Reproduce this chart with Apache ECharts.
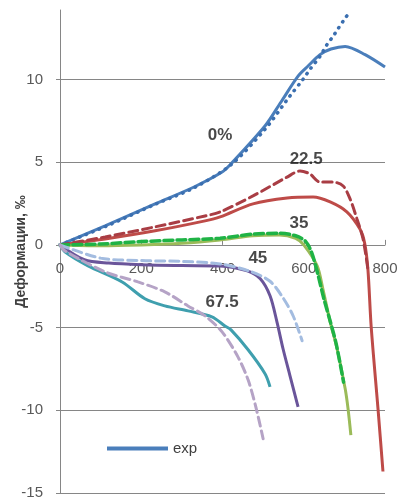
<!DOCTYPE html>
<html>
<head>
<meta charset="utf-8">
<script src="https://cdn.jsdelivr.net/npm/echarts@6/dist/echarts.min.js"></script>
<style>html,body{margin:0;padding:0;background:#fff;}#c{width:398px;height:497px;}</style>
</head>
<body>
<div id="c"></div>
<script>
// x ticks / y ticks
const xTicks = [0, 200, 400, 600, 800];
const yTicks = [-15, -10, -5, 0, 5, 10];

// 0% exp (solid) and calc (dotted)
const exp0X = [0, 111, 234, 330, 399, 421, 505, 544, 586, 610, 640, 667, 702, 751, 800];
const exp0Y = [0, 1.15, 2.48, 3.5, 4.4, 4.9, 7.2, 8.64, 10.2, 10.8, 11.5, 11.84, 12.0, 11.5, 10.75];
const calc0X = [0, 111, 234, 330, 421, 505, 566, 598, 615, 640, 657, 672, 684, 699, 714];
const calc0Y = [0, 1.1, 2.45, 3.45, 4.85, 7.0, 9.0, 10.0, 10.6, 11.4, 12.1, 12.6, 13.05, 13.6, 14.1];

// 22.5
const exp22X = [0, 111, 234, 357, 394, 475, 559, 623, 665, 706, 738, 750, 758, 766, 783, 795];
const exp22Y = [0, 0.36, 0.85, 1.45, 1.69, 2.48, 2.84, 2.9, 2.6, 2.0, 0.97, 0.1, -1.5, -4.95, -9.97, -13.7];
const calc22X = [0, 111, 234, 357, 394, 475, 559, 591, 615, 640, 672, 697, 714, 731, 746, 758];
const calc22Y = [0, 0.48, 1.09, 1.75, 1.99, 2.96, 4.1, 4.47, 4.29, 3.8, 3.8, 3.56, 2.78, 1.57, 0.36, -1.5];

// 35
const exp35X = [0, 100, 200, 300, 394, 475, 540, 580, 600, 633, 647, 665, 682, 702, 709, 716];
const exp35Y = [0, -0.05, 0, 0.1, 0.3, 0.55, 0.6, 0.4, 0.0, -1.27, -2.66, -4.65, -6.28, -8.7, -9.9, -11.5];
const calc35X = [0, 100, 200, 300, 394, 475, 540, 580, 605, 620, 635, 650, 665, 680, 698];
const calc35Y = [0, 0.05, 0.2, 0.3, 0.4, 0.65, 0.7, 0.55, 0.2, -0.5, -1.8, -3.3, -4.6, -6.0, -8.3];

// 45
const exp45X = [0, 60, 120, 200, 300, 394, 461, 493, 517, 534, 549, 566, 586];
const exp45Y = [0, -0.9, -1.1, -1.2, -1.25, -1.27, -1.57, -2.05, -3.08, -4.65, -6.28, -7.9, -9.8];
const calc45X = [0, 100, 200, 300, 394, 468, 517, 549, 574, 596];
const calc45Y = [0, -0.8, -0.95, -1.0, -1.15, -1.6, -2.2, -3.2, -4.3, -5.8];

// 67.5
const exp67X = [0, 12, 69, 153, 209, 258, 315, 374, 406, 421, 463, 505, 517];
const exp67Y = [0, -0.42, -1.27, -2.24, -3.26, -3.69, -3.99, -4.35, -4.9, -5.14, -6.34, -7.8, -8.58];
const calc67X = [0, 12, 111, 192, 258, 315, 357, 399, 438, 463, 482, 500];
const calc67Y = [0, -0.36, -1.63, -2.24, -2.84, -3.69, -4.29, -5.26, -6.77, -8.16, -9.79, -11.72];

// curve annotations
const annText = ['0%', '22.5', '35', '45', '67.5'];
const annX = [394, 606, 588, 487, 399];
const annY = [6.6, 5.15, 1.33, -0.8, -3.45];

const pairs = (xs, ys) => xs.map((x, i) => [x, ys[i]]);
const FONT = 'Liberation Sans';
const GRID = { left: 60, right: 13, top: 10, bottom: 4 };
const H = 497;

function lineSeries(name, xs, ys, color, type, width, z) {
  return {
    name: name, type: 'line', data: pairs(xs, ys),
    showSymbol: false, symbol: 'none', smooth: 0.3, z: z,
    lineStyle: { color: color, width: width, type: type, cap: type === 'solid' ? 'butt' : 'round' },
    itemStyle: { color: color }
  };
}

const chart = echarts.init(document.getElementById('c'), null, { renderer: 'canvas' });
chart.setOption({
  animation: false,
  backgroundColor: '#fff',
  grid: { left: GRID.left, right: GRID.right, top: GRID.top, bottom: GRID.bottom, containLabel: false, outerBoundsMode: 'none' },
  legend: {
    data: [{ name: 'exp', icon: 'rect' }],
    left: 102, top: 436, itemWidth: 61, itemHeight: 4, itemGap: 5,
    textStyle: { fontFamily: FONT, fontSize: 15, color: '#404040', padding: [0, 0, 0, 0] }
  },
  xAxis: {
    type: 'value', min: xTicks[0], max: xTicks[xTicks.length - 1], interval: 200,
    position: 'bottom', offset: 0, z: 0,
    axisLine: { onZero: false, lineStyle: { color: '#868686', width: 1 } },
    axisTick: { show: true, inside: true, length: 5, lineStyle: { color: '#868686' } },
    axisLabel: { margin: 16, fontFamily: FONT, fontSize: 15, color: '#595959' },
    splitLine: { show: false }
  },
  yAxis: {
    type: 'value', min: yTicks[0], max: 14.2, interval: 5,
    name: 'Деформации, ‰', nameLocation: 'middle', nameGap: 32, nameRotate: 90, nameMoveOverlap: false,
    nameTextStyle: { fontFamily: FONT, fontSize: 14, fontWeight: 'bold', color: '#404040' },
    axisLine: { show: true, onZero: false, lineStyle: { color: '#868686', width: 1 } },
    axisTick: { show: true, length: 4, lineStyle: { color: '#868686' } },
    axisLabel: { margin: 17, fontFamily: FONT, fontSize: 15, color: '#595959', showMaxLabel: false },
    splitLine: { show: true, showMaxLine: false, lineStyle: { color: '#868686', width: 1 } }
  },
  series: [
    lineSeries('exp', exp0X, exp0Y, '#4a7ebb', 'solid', 3, 2),
    lineSeries('calc 0', calc0X, calc0Y, '#3b6fb0', [0.5, 6.5], 3.5, 3),
    lineSeries('exp 22.5', exp22X, exp22Y, '#be4b48', 'solid', 3, 2),
    lineSeries('calc 22.5', calc22X, calc22Y, '#a93d44', [9, 5], 3, 3),
    lineSeries('exp 35', exp35X, exp35Y, '#9bbb59', 'solid', 3, 2),
    lineSeries('calc 35', calc35X, calc35Y, '#1fb345', [9, 4], 3.5, 3),
    lineSeries('exp 45', exp45X, exp45Y, '#6a559a', 'solid', 3, 2),
    lineSeries('calc 45', calc45X, calc45Y, '#a3bce0', [9, 5], 3, 3),
    lineSeries('exp 67.5', exp67X, exp67Y, '#3f9fae', 'solid', 3, 2),
    lineSeries('calc 67.5', calc67X, calc67Y, '#b5a3c6', [9, 5], 3, 3),
    {
      name: 'labels', type: 'scatter', symbolSize: 1, z: 10, silent: true,
      itemStyle: { color: 'rgba(0,0,0,0)' },
      data: annText.map((t, i) => ({ name: t, value: [annX[i], annY[i]] })),
      label: {
        show: true, position: 'inside', formatter: '{b}',
        fontFamily: FONT, fontSize: 17, fontWeight: 'bold', color: '#1a1a1a'
      }
    }
  ]
});
// Move the x axis up to the y = 0 line, using the library's own y scale.
const zeroPx = chart.convertToPixel({ yAxisIndex: 0 }, 0);
chart.setOption({ xAxis: { offset: zeroPx - (H - GRID.bottom) } });
</script>
</body>
</html>
